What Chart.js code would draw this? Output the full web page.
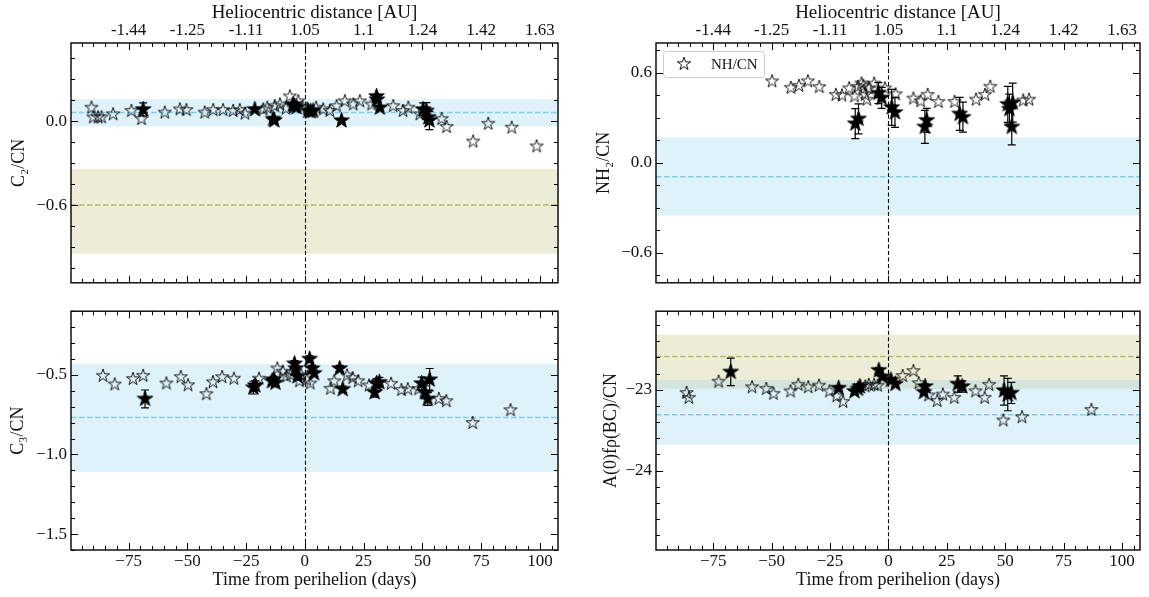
<!DOCTYPE html>
<html>
<head>
<meta charset="utf-8">
<script src="https://cdn.jsdelivr.net/npm/chart.js@4"></script>
<style>
  body { margin: 0; background: #fff; width: 1149px; height: 597px; position: relative; overflow: hidden; }
  canvas { position: absolute; }
</style>
</head>
<body>
<canvas id="cC2" width="575" height="297" style="left:0;top:0"></canvas>
<canvas id="cNH2" width="574" height="297" style="left:575px;top:0"></canvas>
<canvas id="cC3" width="575" height="300" style="left:0;top:297px"></canvas>
<canvas id="cAF" width="574" height="300" style="left:575px;top:297px"></canvas>
<script>
// shared time axis (days from perihelion) and heliocentric labels on top
const xMin = -99.5, xMax = 107.7;
const dayTicks = [-75, -50, -25, 0, 25, 50, 75, 100];
const auLabels = ['-1.44', '-1.25', '-1.11', '1.05', '1.1', '1.24', '1.42', '1.63'];

// C2/CN
const c2Days = [-90.8, -90, -88, -86.5, -81.6, -73.8, -69.5, -59.6, -53.2, -50.4, -42.6, -39, -34.8, -30.5, -27.7, -25.5, -17.7, -16, -12.8, -10.6, -8, -6.4, -2.8, -1, 1, 4.8, 7.8, 10.6, 13.5, 17, 20.6, 23.4, 28.4, 37.6, 41.8, 44, 48.9, 58.2, 60.3, 71.6, 78, 88, 98.6];
const c2Vals = [0.097, 0.028, 0.028, 0.028, 0.05, 0.074, 0.016, 0.062, 0.085, 0.08, 0.062, 0.08, 0.08, 0.074, 0.08, 0.055, 0.085, 0.097, 0.108, 0.12, 0.09, 0.178, 0.143, 0.1, 0.09, 0.097, 0.085, 0.074, 0.108, 0.143, 0.12, 0.143, 0.12, 0.108, 0.074, 0.097, 0.05, 0.016, -0.041, -0.145, -0.018, -0.046, -0.18];
const c2FillDays = [-68.8, -21.3, -13.5, -13, -5, -4.5, -3.5, 1.4, 2.5, 3.5, 15.6, 30.5, 30.7, 31.9, 50.3, 51.7, 52.5, 53];
const c2FillVals = [0.085, 0.085, 0.016, 0.005, 0.12, 0.108, 0.1, 0.074, 0.07, 0.074, 0.005, 0.178, 0.155, 0.097, 0.085, 0.074, 0.028, 0.005];
const c2FillErr = [0.046, 0.015, 0.015, 0.015, 0.015, 0.015, 0.015, 0.015, 0.015, 0.015, 0.015, 0.015, 0.015, 0.015, 0.046, 0.06, 0.04, 0.065];
const c2BlueBand = [-0.037, 0.159], c2BlueMean = 0.062;
const c2OliveBand = [-0.948, -0.341], c2OliveMean = -0.6;

// NH2/CN
const nhDays = [-49.8, -41.8, -38.3, -34.5, -29.6, -22.5, -19.9, -16.8, -14.5, -13, -11.5, -10.7, -10, -9.2, -8.4, -6.1, -1.5, 3.1, 10.7, 13.8, 16.8, 21.4, 28.3, 37.5, 41.3, 43.6, 57.7, 60.2];
const nhVals = [0.544, 0.501, 0.514, 0.544, 0.506, 0.454, 0.45, 0.497, 0.444, 0.508, 0.53, 0.514, 0.454, 0.422, 0.497, 0.529, 0.497, 0.458, 0.429, 0.411, 0.454, 0.407, 0.407, 0.422, 0.454, 0.508, 0.416, 0.422];
const nhFillDays = [-14.2, -12.8, -4.3, -2.9, 1.4, 2.8, 15.6, 16.4, 30.5, 31.9, 51.1, 51.8, 53.2, 52.8];
const nhFillVals = [0.262, 0.294, 0.466, 0.434, 0.37, 0.337, 0.24, 0.284, 0.327, 0.305, 0.391, 0.359, 0.402, 0.24];
const nhFillErr = [0.1, 0.1, 0.07, 0.07, 0.12, 0.1, 0.11, 0.08, 0.11, 0.1, 0.12, 0.1, 0.13, 0.12];
const nhBlueBand = [-0.351, 0.17], nhBlueMean = -0.093;

// C3/CN
const c3Days = [-85.9, -80.9, -73.1, -68.8, -58.9, -52.8, -49.7, -41.9, -39.1, -35.2, -30.2, -19.5, -11.7, -9.4, -7.8, -6, -2.3, -1.6, 0.8, 2.3, 10.9, 12.5, 18, 20.3, 22.7, 27.3, 36.7, 41.1, 43.8, 48.4, 57, 60.2, 71.4, 87.5];
const c3Vals = [-0.506, -0.56, -0.526, -0.506, -0.554, -0.514, -0.565, -0.621, -0.546, -0.514, -0.524, -0.524, -0.46, -0.48, -0.51, -0.5, -0.54, -0.5, -0.53, -0.554, -0.587, -0.54, -0.504, -0.52, -0.54, -0.567, -0.556, -0.595, -0.59, -0.59, -0.651, -0.665, -0.802, -0.722];
const c3FillDays = [-68, -21.9, -21.1, -14, -13.3, -12.5, -4.4, -3.9, -3.1, 2, 3.1, 3.9, 14.8, 16.1, 29.7, 30.5, 31.7, 49.7, 51.1, 52.3, 53.1];
const c3FillVals = [-0.651, -0.58, -0.567, -0.54, -0.53, -0.55, -0.43, -0.46, -0.51, -0.4, -0.46, -0.49, -0.46, -0.59, -0.61, -0.554, -0.546, -0.554, -0.61, -0.651, -0.53];
const c3FillErr = [0.056, 0.04, 0.03, 0.02, 0.02, 0.02, 0.02, 0.02, 0.02, 0.02, 0.02, 0.02, 0.02, 0.02, 0.03, 0.03, 0.03, 0.04, 0.04, 0.04, 0.07];
const c3BlueBand = [-1.111, -0.43], c3BlueMean = -0.768;

// A(0)f rho (BC)/CN
const afDays = [-86.4, -85.4, -72.7, -58.4, -52.3, -49.2, -41.9, -38.6, -34.3, -29.7, -25.2, -22.1, -19.4, -9.9, -8.4, -6.1, -4.6, 6.1, 10.7, 13, 17.2, 20.9, 23.3, 28.2, 37.3, 41.2, 43.1, 49.2, 57.2, 86.9];
const afVals = [-23.04, -23.1, -22.9, -22.97, -22.99, -23.05, -23.02, -22.94, -22.97, -22.95, -23.02, -23.08, -23.15, -22.96, -22.94, -22.94, -22.95, -22.83, -22.77, -22.92, -23.07, -23.14, -23.06, -23.1, -23.02, -23.1, -22.94, -23.38, -23.34, -23.25];
const afFillDays = [-67.5, -21.3, -14.5, -13, -12.2, -4.1, -2.6, 1.1, 3, 15.2, 15.7, 29.7, 31.6, 49.5, 51.1, 52.6];
const afFillVals = [-22.78, -22.98, -23.02, -22.99, -22.96, -22.76, -22.84, -22.88, -22.93, -23.03, -22.96, -22.93, -22.96, -23.01, -23.06, -23.04];
const afFillErr = [0.17, 0.03, 0.03, 0.03, 0.03, 0.03, 0.03, 0.03, 0.03, 0.03, 0.03, 0.1, 0.07, 0.18, 0.2, 0.13];
const afOliveBand = [-22.99, -22.32], afOliveMean = -22.59;
const afBlueBand = [-23.68, -22.88], afBlueMean = -23.31;

const BLUE = 'rgba(135,206,235,0.27)', BLUE_LINE = '#87cbe6';
const OLIVE = 'rgba(189,183,107,0.27)', OLIVE_LINE = '#bdb76b';

Chart.defaults.font.family = '"Liberation Serif", "DejaVu Serif", serif';
Chart.defaults.font.size = 17;
Chart.defaults.color = '#111';

function makeStar(R, filled) {
  const s = Math.ceil(2 * R + 4);
  const c = document.createElement('canvas');
  c.width = s; c.height = s;
  const g = c.getContext('2d');
  g.translate(s / 2, s / 2);
  g.beginPath();
  for (let i = 0; i < 10; i++) {
    const r = i % 2 ? R * 0.382 : R;
    const a = -Math.PI / 2 + i * Math.PI / 5;
    g.lineTo(r * Math.cos(a), r * Math.sin(a));
  }
  g.closePath();
  if (filled) { g.fillStyle = '#000'; g.fill(); }
  g.lineWidth = filled ? 1 : 0.9; g.strokeStyle = '#000'; g.stroke();
  return c;
}
const starOpen = makeStar(6.9, false);
const starFilled = makeStar(8.2, true);

function fmt(v, d) {
  return (v < -1e-9 ? '\u2212' : '') + Math.abs(v).toFixed(d);
}
function pts(xs, ys) {
  return xs.map((x, i) => ({x: x, y: ys[i]}));
}

function panel(id, o) {
  const decor = {
    id: 'decor' + id,
    beforeDatasetsDraw(chart) {
      const ctx = chart.ctx, a = chart.chartArea;
      const xs = chart.scales.x, ys = chart.scales.y;
      ctx.save();
      o.bands.forEach(b => {
        const y1 = ys.getPixelForValue(b.range[1]), y0 = ys.getPixelForValue(b.range[0]);
        ctx.fillStyle = b.fill;
        ctx.fillRect(a.left, y1, a.right - a.left, y0 - y1);
      });
      o.bands.forEach(b => {
        const y = ys.getPixelForValue(b.mean);
        ctx.strokeStyle = b.line; ctx.lineWidth = 1.5; ctx.setLineDash([5.5, 2.5]);
        ctx.beginPath(); ctx.moveTo(a.left, y); ctx.lineTo(a.right, y); ctx.stroke();
      });
      const x0 = Math.round(xs.getPixelForValue(0)) + 0.5;
      ctx.strokeStyle = '#000'; ctx.lineWidth = 1.1; ctx.setLineDash([4, 2.5]);
      ctx.beginPath(); ctx.moveTo(x0, a.top); ctx.lineTo(x0, a.bottom); ctx.stroke();
      ctx.restore();
    },
    afterDatasetsDraw(chart) {
      const ctx = chart.ctx, a = chart.chartArea;
      const xs = chart.scales.x, ys = chart.scales.y;
      ctx.save();
      // error bars of the filled points
      ctx.strokeStyle = '#000'; ctx.lineWidth = 1.2;
      o.fDays.forEach((d, i) => {
        const px = xs.getPixelForValue(d);
        const yh = ys.getPixelForValue(o.fVals[i] + o.fErr[i]);
        const yl = ys.getPixelForValue(o.fVals[i] - o.fErr[i]);
        ctx.beginPath();
        ctx.moveTo(px, yh); ctx.lineTo(px, yl);
        ctx.moveTo(px - 4, yh); ctx.lineTo(px + 4, yh);
        ctx.moveTo(px - 4, yl); ctx.lineTo(px + 4, yl);
        ctx.stroke();
      });
      // inward ticks on all sides
      ctx.lineWidth = 1;
      ctx.beginPath();
      for (let v = Math.ceil(xMin / 5) * 5; v <= xMax; v += 5) {
        const px = Math.round(xs.getPixelForValue(v)) + 0.5;
        const len = v % 25 === 0 ? 7 : 4;
        ctx.moveTo(px, a.top); ctx.lineTo(px, a.top + len);
        ctx.moveTo(px, a.bottom); ctx.lineTo(px, a.bottom - len);
      }
      for (let k = Math.ceil(o.yMin / o.yMinor - 1e-6); k * o.yMinor <= o.yMax + 1e-9; k++) {
        const v = k * o.yMinor;
        const r = v / o.yMajor;
        const len = Math.abs(r - Math.round(r)) < 1e-6 ? 7 : 4;
        const py = Math.round(ys.getPixelForValue(v)) + 0.5;
        ctx.moveTo(a.left, py); ctx.lineTo(a.left + len, py);
        ctx.moveTo(a.right, py); ctx.lineTo(a.right - len, py);
      }
      ctx.stroke();
      ctx.lineWidth = 1.4;
      ctx.strokeRect(a.left, a.top, a.right - a.left, a.bottom - a.top);
      if (o.legend) {
        const bx = a.left + 7.5, by = a.top + 8.5;
        ctx.beginPath();
        ctx.roundRect(bx, by, 101, 26, 3);
        ctx.fillStyle = 'rgba(255,255,255,0.8)'; ctx.fill();
        ctx.strokeStyle = '#cccccc'; ctx.lineWidth = 1; ctx.stroke();
        ctx.drawImage(starOpen, a.left + 28 - starOpen.width / 2, a.top + 21 - starOpen.height / 2);
        ctx.fillStyle = '#111';
        ctx.font = '15px "Liberation Serif", serif';
        ctx.textBaseline = 'middle';
        ctx.fillText(o.legend, a.left + 55, a.top + 22);
      }
      ctx.restore();
    }
  };

  new Chart(document.getElementById(id), {
    type: 'scatter',
    data: {
      datasets: [
        {data: pts(o.fDays, o.fVals), pointStyle: starFilled, pointRadius: 8},
        {data: pts(o.days, o.vals), pointStyle: starOpen, pointRadius: 7}
      ]
    },
    options: {
      responsive: false,
      animation: false,
      events: [],
      layout: {padding: o.pad},
      plugins: {legend: {display: false}, tooltip: {enabled: false}},
      scales: {
        x: {
          type: 'linear',
          position: o.top ? 'top' : 'bottom',
          min: xMin, max: xMax,
          grid: {display: false, drawTicks: false},
          border: {display: false},
          afterBuildTicks: s => { s.ticks = dayTicks.map(v => ({value: v})); },
          afterFit: s => { s.height = o.top ? 43 : 47; },
          ticks: {
            autoSkip: false, maxRotation: 0, padding: o.top ? 2 : 1,
            callback: v => o.top ? auLabels[dayTicks.indexOf(v)] : fmt(v, 0)
          },
          title: {
            display: true,
            text: o.top ? 'Heliocentric distance [AU]' : 'Time from perihelion (days)',
            font: {size: o.top ? 19 : 18},
            padding: o.top ? {top: 2, bottom: 0} : {top: 0, bottom: 6}
          }
        },
        y: {
          type: 'linear',
          min: o.yMin, max: o.yMax,
          grid: {display: false, drawTicks: false},
          border: {display: false},
          afterBuildTicks: s => { s.ticks = o.yTicks.map(v => ({value: v})); },
          afterFit: s => { s.width = o.yWidth; },
          ticks: {autoSkip: false, padding: 4, callback: v => fmt(v, o.dec)},
          title: {display: true, text: o.yTitle, font: {size: 18}, padding: {top: o.titlePad, bottom: 0}}
        }
      }
    },
    plugins: [decor]
  });
}

panel('cC2', {
  top: true, days: c2Days, vals: c2Vals, fDays: c2FillDays, fVals: c2FillVals, fErr: c2FillErr,
  yMin: -1.156, yMax: 0.56, yMinor: 0.15, yMajor: 0.6, yTicks: [0, -0.6], dec: 1,
  yTitle: 'C\u2082/CN', titlePad: 8, yWidth: 71, pad: {left: 0, right: 17, top: 0, bottom: 6},
  bands: [
    {range: c2BlueBand, mean: c2BlueMean, fill: BLUE, line: BLUE_LINE},
    {range: c2OliveBand, mean: c2OliveMean, fill: OLIVE, line: OLIVE_LINE}
  ]
});

panel('cNH2', {
  top: true, days: nhDays, vals: nhVals, fDays: nhFillDays, fVals: nhFillVals, fErr: nhFillErr,
  yMin: -0.8, yMax: 0.8, yMinor: 0.15, yMajor: 0.6, yTicks: [0.6, 0, -0.6], dec: 1,
  yTitle: 'NH\u2082/CN', titlePad: 18, yWidth: 81, pad: {left: 0, right: 6, top: 0, bottom: 6},
  bands: [{range: nhBlueBand, mean: nhBlueMean, fill: BLUE, line: BLUE_LINE}],
  legend: 'NH/CN'
});

panel('cC3', {
  top: false, days: c3Days, vals: c3Vals, fDays: c3FillDays, fVals: c3FillVals, fErr: c3FillErr,
  yMin: -1.6, yMax: -0.1, yMinor: 0.1, yMajor: 0.5, yTicks: [-0.5, -1, -1.5], dec: 1,
  yTitle: 'C\u2083/CN', titlePad: 7, yWidth: 71, pad: {left: 0, right: 17, top: 5, bottom: 0},
  bands: [{range: c3BlueBand, mean: c3BlueMean, fill: BLUE, line: BLUE_LINE}]
});

panel('cAF', {
  top: false, days: afDays, vals: afVals, fDays: afFillDays, fVals: afFillVals, fErr: afFillErr,
  yMin: -24.98, yMax: -22.03, yMinor: 0.2, yMajor: 1, yTicks: [-23, -24], dec: 0,
  yTitle: 'A(0)f\u03C1(BC)/CN', titlePad: 25, yWidth: 81, pad: {left: 0, right: 6, top: 5, bottom: 0},
  bands: [
    {range: afOliveBand, mean: afOliveMean, fill: OLIVE, line: OLIVE_LINE},
    {range: afBlueBand, mean: afBlueMean, fill: BLUE, line: BLUE_LINE}
  ]
});
</script>
</body>
</html>
